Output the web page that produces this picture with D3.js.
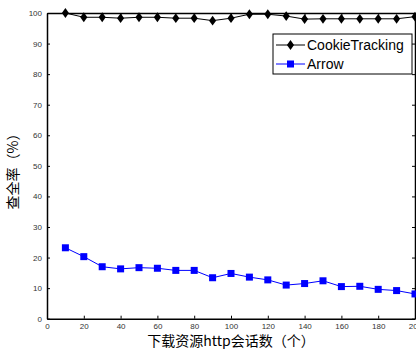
<!DOCTYPE html>
<html>
<head>
<meta charset="utf-8">
<script src="https://cdn.jsdelivr.net/npm/d3@7"></script>
<style>
  body { margin: 0; background: #fff; }
  svg { display: block; font-family: "Liberation Sans", Arial, sans-serif; }
  .tick text { fill: #333; font-size: 8px; }
</style>
</head>
<body>
<svg id="chart" width="416" height="349"></svg>
<script>
// session counts (x axis)
const sessions = [10, 20, 30, 40, 50, 60, 70, 80, 90, 100, 110, 120, 130, 140, 150, 160, 170, 180, 190, 200]
const cookieTracking = [100, 98.6, 98.6, 98.3, 98.6, 98.6, 98.3, 98.3, 97.5, 98.3, 99.6, 99.6, 99, 98, 98.1, 98.1, 98.1, 98.1, 98.1, 98.8]
const arrow = [23.2, 20.3, 17, 16.3, 16.7, 16.5, 15.8, 15.8, 13.4, 14.8, 13.6, 12.7, 11, 11.5, 12.4, 10.5, 10.6, 9.6, 9.2, 8.1]
const xTicks = [0, 20, 40, 60, 80, 100, 120, 140, 160, 180, 200]
const yTicks = [0, 10, 20, 30, 40, 50, 60, 70, 80, 90, 100]
const seriesNames = ['CookieTracking', 'Arrow']

const svg = d3.select('#chart')
const plotLeft = 47, plotRight = 415, plotTop = 13, plotBottom = 318.7

const x = d3.scaleLinear().domain([0, 200]).range([plotLeft, plotRight])
const y = d3.scaleLinear().domain([0, 100]).range([plotBottom, plotTop])

// axes, ticks pointing inward like matlab
svg.append('g')
    .attr('transform', `translate(0,${plotBottom})`)
    .call(d3.axisBottom(x).tickValues(xTicks).tickSizeInner(-3).tickSizeOuter(0).tickPadding(5))
svg.append('g')
    .attr('transform', `translate(0,${plotTop})`)
    .call(d3.axisTop(x).tickValues(xTicks).tickSizeInner(-3).tickSizeOuter(0).tickFormat(''))
svg.append('g')
    .attr('transform', `translate(${plotLeft},0)`)
    .call(d3.axisLeft(y).tickValues(yTicks).tickSizeInner(-3).tickSizeOuter(0).tickPadding(5))
svg.append('g')
    .attr('transform', `translate(${plotRight},0)`)
    .call(d3.axisRight(y).tickValues(yTicks).tickSizeInner(-3).tickSizeOuter(0).tickFormat(''))

svg.selectAll('.domain').attr('stroke', '#000').attr('stroke-width', 1.5)
svg.selectAll('.tick line').attr('stroke', '#000')

const line = d3.line().x((d, i) => x(sessions[i])).y(d => y(d))

// CookieTracking
svg.append('path')
    .attr('d', line(cookieTracking))
    .attr('fill', 'none')
    .attr('stroke', '#000')
    .attr('stroke-width', 1)
const diamond = d3.symbol().type(d3.symbolDiamond).size(28)
svg.selectAll('.ck')
    .data(cookieTracking)
    .join('path')
    .attr('class', 'ck')
    .attr('transform', (d, i) => `translate(${x(sessions[i])},${y(d)}) scale(1.25,1)`)
    .attr('d', diamond())
    .attr('fill', '#000')

// Arrow
svg.append('path')
    .attr('d', line(arrow))
    .attr('fill', 'none')
    .attr('stroke', '#0000ff')
    .attr('stroke-width', 1)
svg.selectAll('.ar')
    .data(arrow)
    .join('rect')
    .attr('class', 'ar')
    .attr('x', (d, i) => x(sessions[i]) - 3.5)
    .attr('y', d => y(d) - 3.5)
    .attr('width', 7)
    .attr('height', 7)
    .attr('fill', '#0000ff')

// legend
const lg = svg.append('g').attr('transform', 'translate(273,34)')
lg.append('rect')
    .attr('width', 139).attr('height', 40)
    .attr('fill', '#fff').attr('stroke', '#000').attr('stroke-width', 1)
seriesNames.forEach((name, i) => {
    const yy = 11 + i * 19
    const col = i === 0 ? '#000' : '#0000ff'
    lg.append('line').attr('x1', 3).attr('x2', 32).attr('y1', yy).attr('y2', yy)
        .attr('stroke', col).attr('stroke-width', 1)
    if (i === 0) {
        lg.append('path').attr('transform', `translate(17.5,${yy}) scale(1.25,1)`)
            .attr('d', diamond()).attr('fill', col)
    } else {
        lg.append('rect').attr('x', 14).attr('y', yy - 3.5).attr('width', 7).attr('height', 7).attr('fill', col)
    }
    lg.append('text').attr('x', 34).attr('y', yy + 5)
        .attr('font-size', 14).attr('fill', '#000').text(name)
})

// axis titles
svg.append('text')
    .attr('x', 231).attr('y', 346)
    .attr('text-anchor', 'middle')
    .attr('font-family', '"Noto Sans CJK SC", sans-serif')
    .attr('font-size', 14)
    .text('下载资源http会话数（个）')
svg.append('text')
    .attr('transform', 'translate(18,168) rotate(-90)')
    .attr('text-anchor', 'middle')
    .attr('font-family', '"Noto Sans CJK SC", sans-serif')
    .attr('font-size', 14)
    .text('查全率（%）')
</script>
</body>
</html>
